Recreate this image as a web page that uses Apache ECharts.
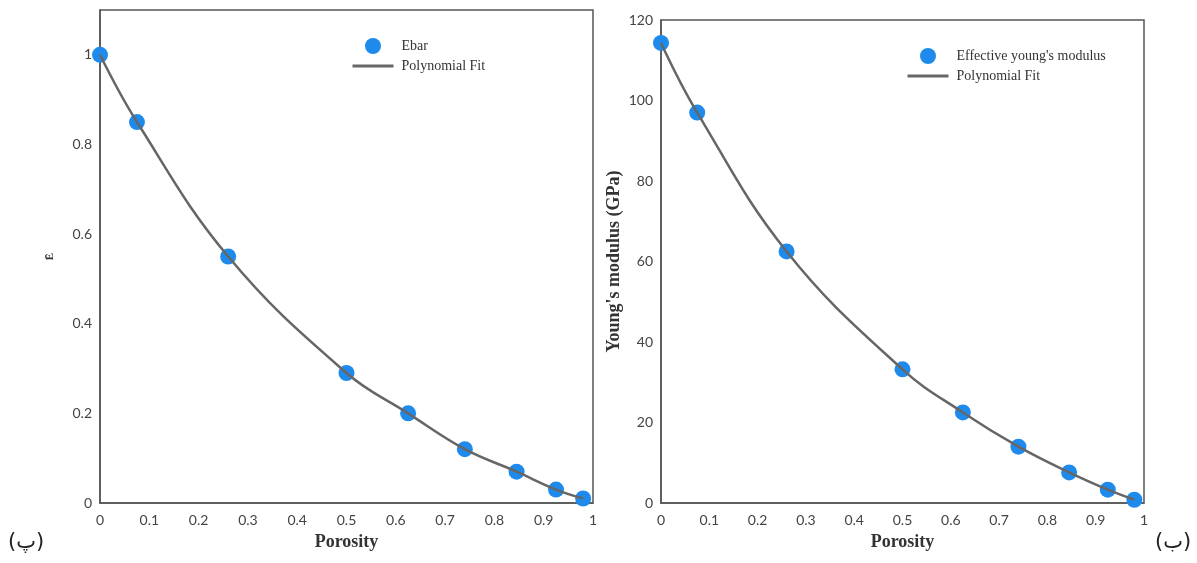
<!DOCTYPE html>
<html>
<head>
<meta charset="utf-8">
<script src="https://cdn.jsdelivr.net/npm/echarts@6/dist/echarts.min.js"></script>
<style>
html,body{margin:0;padding:0;background:#fff;}
#c{width:1197px;height:563px;}
</style>
</head>
<body>
<div id="c"></div>
<script>
// Data
var porosity = [0, 0.075, 0.26, 0.5, 0.625, 0.74, 0.845, 0.925, 0.98];
var ebar = [1.0, 0.85, 0.55, 0.29, 0.2, 0.12, 0.07, 0.03, 0.01];
var youngs = [114.3, 97, 62.5, 33.2, 22.5, 14, 7.6, 3.3, 0.8];
var xTickLabels = ['0','0.1','0.2','0.3','0.4','0.5','0.6','0.7','0.8','0.9','1'];

function pairs(xs, ys){ return xs.map(function(x,i){ return [x, ys[i]]; }); }

var serif = '"Liberation Serif", "Times New Roman", serif';
var sans = 'Lato, "Open Sans", sans-serif';
var blue = '#1e8bec';
var grey = '#666666';

function xAxisCfg(grid){
  return {
    type:'value', gridIndex:grid, min:0, max:1, interval:0.1,
    name:'Porosity', nameLocation:'middle', nameGap:30,
    nameTextStyle:{fontFamily:serif, fontWeight:'bold', fontSize:18, color:'#333'},
    axisLine:{show:true, lineStyle:{color:'#555', width:1.5}},
    axisTick:{show:false}, splitLine:{show:false},
    axisLabel:{fontFamily:sans, fontSize:14, color:'#444', margin:10,
      formatter:function(v){ return xTickLabels[Math.round(v*10)]; }}
  };
}

var legendText = {fontFamily:serif, fontSize:14, color:'#333', padding:[0,0,0,3]};
var fitLegendItem = {itemStyle:{opacity:0, color:'transparent', borderWidth:0},
                     lineStyle:{width:3, color:grey}};

var option = {
  backgroundColor:'#fff',
  animation:false,
  grid:[
    {left:100, top:10, width:493, bottom:60, show:true, borderColor:'#555', borderWidth:1.5},
    {left:661, top:20, width:483, bottom:60, show:true, borderColor:'#555', borderWidth:1.5}
  ],
  xAxis:[xAxisCfg(0), xAxisCfg(1)],
  yAxis:[
    {type:'value', gridIndex:0, min:0, max:1.1, interval:0.2,
     name:'Ē', nameLocation:'middle', nameGap:44, nameRotate:90,
     nameTextStyle:{fontFamily:serif, fontWeight:'bold', fontSize:11, color:'#333'},
     axisLine:{show:true, lineStyle:{color:'#555', width:1.5}},
     axisTick:{show:false}, splitLine:{show:false},
     axisLabel:{fontFamily:sans, fontSize:14, color:'#444', margin:8, showMaxLabel:false}},
    {type:'value', gridIndex:1, min:0, max:120, interval:20,
     name:"Young's modulus (GPa)", nameLocation:'middle', nameGap:38, nameRotate:90,
     nameTextStyle:{fontFamily:serif, fontWeight:'bold', fontSize:18, color:'#333'},
     axisLine:{show:true, lineStyle:{color:'#555', width:1.5}},
     axisTick:{show:false}, splitLine:{show:false},
     axisLabel:{fontFamily:sans, fontSize:14, color:'#444', margin:8}}
  ],
  legend:[
    {orient:'vertical', left:346, top:33, itemWidth:41, itemHeight:16, itemGap:5,
     textStyle:legendText,
     data:[{name:'Ebar', icon:'circle'},
           Object.assign({name:'Polynomial Fit'}, fitLegendItem)]},
    {orient:'vertical', left:901, top:43, itemWidth:41, itemHeight:16, itemGap:5,
     textStyle:legendText,
     data:[{name:"Effective young's modulus", icon:'circle'},
           Object.assign({name:'Polynomial Fit 2'}, fitLegendItem)],
     formatter:function(n){ return n === 'Polynomial Fit 2' ? 'Polynomial Fit' : n; }}
  ],
  series:[
    {name:'Polynomial Fit', type:'line', xAxisIndex:0, yAxisIndex:0, data:pairs(porosity, ebar),
     smooth:0.4, symbol:'none', lineStyle:{color:grey, width:2.5}, itemStyle:{color:grey}, z:2},
    {name:'Ebar', type:'scatter', xAxisIndex:0, yAxisIndex:0, data:pairs(porosity, ebar),
     symbolSize:16, itemStyle:{color:blue, opacity:1}, z:1},
    {name:'Polynomial Fit 2', type:'line', xAxisIndex:1, yAxisIndex:1, data:pairs(porosity, youngs),
     smooth:0.4, symbol:'none', lineStyle:{color:grey, width:2.5}, itemStyle:{color:grey}, z:2},
    {name:"Effective young's modulus", type:'scatter', xAxisIndex:1, yAxisIndex:1, data:pairs(porosity, youngs),
     symbolSize:16, itemStyle:{color:blue, opacity:1}, z:1}
  ],
  graphic:[
    {type:'text', left:8, top:532, style:{text:'(پ)', font:'21px "DejaVu Sans"', fill:'#222'}},
    {type:'text', left:1155, top:532, style:{text:'(ب)', font:'21px "DejaVu Sans"', fill:'#222'}}
  ]
};
var chart = echarts.init(document.getElementById('c'), null, {renderer:'canvas'});
chart.setOption(option);
</script>
</body>
</html>
